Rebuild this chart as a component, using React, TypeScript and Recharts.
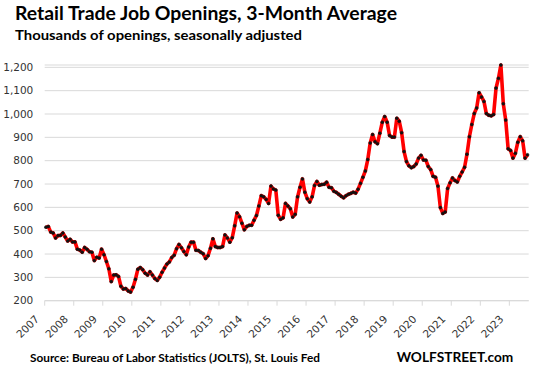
import React from 'react';
import { LineChart, Line, XAxis, YAxis, CartesianGrid } from 'recharts';

// Retail trade job openings, 3-month average (thousands), monthly from Jan 2007
const y2007 = [515, 518, 494, 490, 469, 479, 480, 490, 473, 456, 463, 452];
const y2008 = [452, 421, 417, 408, 428, 420, 410, 408, 372, 386, 383, 421];
const y2009 = [397, 368, 337, 282, 310, 311, 304, 262, 250, 252, 242, 237];
const y2010 = [258, 292, 335, 342, 333, 318, 310, 324, 310, 295, 287, 301];
const y2011 = [322, 340, 357, 366, 385, 395, 423, 441, 427, 411, 397, 430];
const y2012 = [451, 451, 416, 415, 408, 401, 381, 393, 425, 465, 432, 428];
const y2013 = [428, 432, 482, 469, 451, 470, 521, 576, 560, 532, 504, 518];
const y2014 = [523, 523, 545, 565, 606, 650, 645, 634, 617, 691, 679, 674];
const y2015 = [566, 549, 555, 617, 606, 594, 559, 570, 645, 686, 722, 665];
const y2016 = [637, 623, 645, 694, 711, 695, 698, 699, 708, 686, 684, 669];
const y2017 = [664, 656, 648, 641, 650, 656, 660, 665, 661, 678, 703, 729];
const y2018 = [756, 805, 876, 912, 881, 873, 918, 965, 989, 965, 908, 901];
const y2019 = [901, 982, 969, 920, 839, 796, 778, 770, 775, 786, 811, 823];
const y2020 = [803, 802, 775, 762, 733, 729, 691, 599, 574, 580, 681, 705];
const y2021 = [726, 715, 709, 733, 752, 772, 828, 903, 955, 1002, 1026, 1091];
const y2022 = [1073, 1054, 1002, 995, 992, 998, 1111, 1153, 1210, 1044, 974, 851];
const y2023 = [844, 811, 832, 879, 903, 885, 811, 825];

const yearLabels = ['2007', '2008', '2009', '2010', '2011', '2012', '2013', '2014', '2015', '2016', '2017', '2018', '2019', '2020', '2021', '2022', '2023'];
const valueTicks = [200, 300, 400, 500, 600, 700, 800, 900, 1000, 1100, 1200];

const title = 'Retail Trade Job Openings, 3-Month Average';
const subtitle = 'Thousands of openings, seasonally adjusted';
const source = 'Source: Bureau of Labor Statistics (JOLTS), St. Louis Fed';
const brand = 'WOLFSTREET.com';

const openings = [
  ...y2007, ...y2008, ...y2009, ...y2010, ...y2011, ...y2012, ...y2013, ...y2014,
  ...y2015, ...y2016, ...y2017, ...y2018, ...y2019, ...y2020, ...y2021, ...y2022, ...y2023,
];
const data = openings.map((v, i) => ({ m: i + 0.5, v }));
const monthCount = yearLabels.length * 12 - 4; // 200 category slots
const yearTicks = yearLabels.map((_, i) => i * 12);

const XTick = (props: any) => {
  const { x, y, payload } = props;
  const label = yearLabels[Math.round(payload.value / 12)];
  const px = x - 5;
  const py = y + 12;
  return (
    <text
      x={px}
      y={py}
      transform={`rotate(-45 ${px} ${py})`}
      textAnchor="end"
      fontSize={10.5}
      fontFamily="DejaVu Sans"
      fill="#333"
    >
      {label}
    </text>
  );
};

export default function App() {
  return (
    <div style={{ position: 'absolute', left: 0, top: 0, width: 534, height: 375, background: '#fff' }}>
      <LineChart
        width={534}
        height={375}
        data={data}
        margin={{ top: 65, right: 5.3, bottom: 44.3, left: 0 }}
      >
        <CartesianGrid horizontal vertical={false} stroke="#D9D9D9" strokeWidth={1} />
        <XAxis
          type="number"
          dataKey="m"
          domain={[0, monthCount]}
          ticks={yearTicks}
          interval={0}
          height={30}
          tick={<XTick />}
          tickSize={5}
          tickMargin={2}
          axisLine={{ stroke: '#D9D9D9' }}
          tickLine={{ stroke: '#D9D9D9' }}
        />
        <YAxis
          type="number"
          domain={[200, 1200]}
          ticks={valueTicks}
          interval={0}
          width={44.7}
          axisLine={false}
          tickLine={false}
          tickSize={0}
          tickMargin={11.4}
          tickFormatter={(v: number) => v.toLocaleString('en-US')}
          tick={{ fontSize: 10.5, fontFamily: 'DejaVu Sans', fill: '#333' }}
        />
        <Line
          type="linear"
          dataKey="v"
          stroke="#FF0000"
          strokeWidth={3.6}
          strokeLinejoin="round"
          dot={{ r: 1.5, fill: '#111', stroke: '#111', strokeWidth: 0.5 }}
          activeDot={false}
          isAnimationActive={false}
        />
      </LineChart>
      <svg
        width={534}
        height={375}
        style={{ position: 'absolute', left: 0, top: 0, pointerEvents: 'none' }}
      >
        <text x={15} y={20.3} fontFamily="Lato" fontWeight="bold" fontSize={18.5} fill="#000"
          textLength={382} lengthAdjust="spacingAndGlyphs">{title}</text>
        <text x={15} y={40} fontFamily="Lato" fontWeight="bold" fontSize={13} fill="#000"
          textLength={287} lengthAdjust="spacingAndGlyphs">{subtitle}</text>
        <text x={30} y={361.5} fontFamily="Lato" fontWeight="bold" fontSize={11} fill="#000"
          textLength={290} lengthAdjust="spacingAndGlyphs">{source}</text>
        <text x={396.7} y={362} fontFamily="Lato" fontWeight="bold" fontSize={13.5} fill="#000"
          textLength={116.6} lengthAdjust="spacingAndGlyphs">{brand}</text>
      </svg>
    </div>
  );
}
